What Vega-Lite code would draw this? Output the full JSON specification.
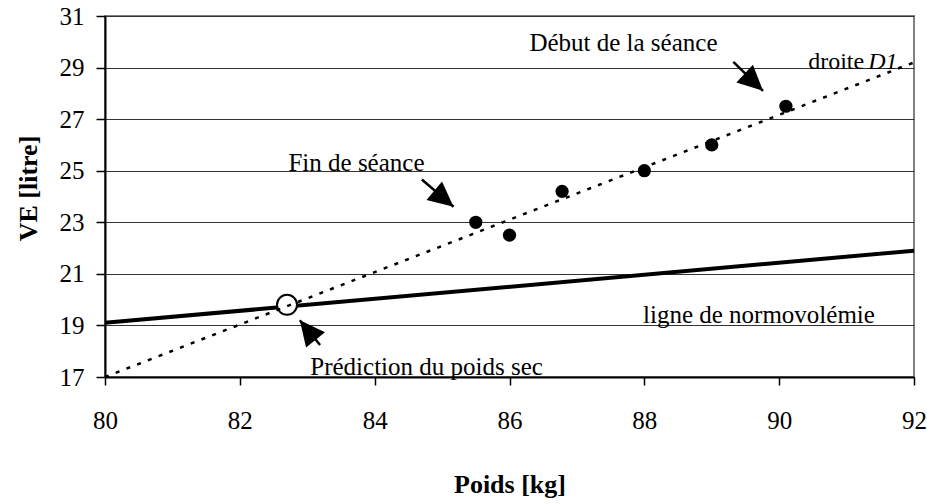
{
  "$schema": "https://vega.github.io/schema/vega-lite/v6.json",
  "width": 809,
  "height": 361,
  "autosize": "none",
  "padding": {"left": 105, "top": 16, "right": 13, "bottom": 127},
  "background": "white",
  "config": {
    "font": "Liberation Serif",
    "view": {"stroke": "#808080", "strokeWidth": 2},
    "axis": {"labelColor": "black", "titleColor": "black", "labelFontSize": 25, "titleFontSize": 26, "titleFontWeight": "bold", "labelFont": "Liberation Serif", "titleFont": "Liberation Serif"}
  },
  "datasets": {
    "points": [
      {"poids": 85.5, "ve": 23.0},
      {"poids": 86.0, "ve": 22.5},
      {"poids": 86.78, "ve": 24.2},
      {"poids": 88.0, "ve": 25.0},
      {"poids": 89.0, "ve": 26.0},
      {"poids": 90.1, "ve": 27.5}
    ],
    "d1": [{"poids": 80, "ve": 17.0}, {"poids": 92, "ve": 29.2}],
    "normo": [{"poids": 80, "ve": 19.1}, {"poids": 92, "ve": 21.9}],
    "pred": [{"poids": 82.7, "ve": 19.8}],
    "stems": [
      {"arrow": "fin", "poids": 84.7, "ve": 24.66, "poids2": 85.17, "ve2": 23.6},
      {"arrow": "debut", "poids": 89.32, "ve": 29.22, "poids2": 89.76, "ve2": 28.1},
      {"arrow": "pred", "poids": 83.19, "ve": 18.24, "poids2": 82.89, "ve2": 19.2}
    ],
    "heads": [
      {"arrow": "fin", "poids": 85.17, "ve": 23.6},
      {"arrow": "debut", "poids": 89.76, "ve": 28.1},
      {"arrow": "pred", "poids": 82.89, "ve": 19.2}
    ],
    "labels": [
      {"label": "Début de la séance", "poids": 87.69, "ve": 29.95},
      {"label": "Fin de séance", "poids": 83.73, "ve": 25.3},
      {"label": "Prédiction du poids sec", "poids": 84.77, "ve": 17.4},
      {"label": "ligne de normovolémie", "poids": 89.7, "ve": 19.41}
    ],
    "droite": [{"label": "droite", "poids": 90.43, "ve": 29.22}],
    "d1label": [{"label": "D1.", "poids": 91.32, "ve": 29.22}]
  },
  "encoding": {
    "x": {
      "field": "poids", "type": "quantitative",
      "scale": {"domain": [80, 92], "nice": false, "zero": false},
      "axis": {"title": "Poids [kg]", "values": [80, 82, 84, 86, 88, 90, 92], "grid": false,
        "domainColor": "black", "domainWidth": 2, "tickColor": "black", "tickWidth": 1.5, "tickSize": 8,
        "labelPadding": 23, "titlePadding": 38, "labelFlush": false}
    },
    "y": {
      "field": "ve", "type": "quantitative",
      "scale": {"domain": [17, 31], "nice": false, "zero": false},
      "axis": {"title": "VE [litre]", "values": [17, 19, 21, 23, 25, 27, 29, 31], "grid": true,
        "gridColor": "#333333", "gridWidth": 1, "domainColor": "black", "domainWidth": 2,
        "tickColor": "black", "tickWidth": 1.5, "tickSize": 9, "labelPadding": 12, "titlePadding": 18, "titleY": 172}
    }
  },
  "layer": [
    {"data": {"name": "normo"}, "mark": {"type": "line", "color": "black", "strokeWidth": 4}},
    {"data": {"name": "pred"}, "mark": {"type": "point", "shape": "circle", "size": 400, "filled": true, "fill": "white", "stroke": "black", "strokeWidth": 2, "opacity": 1}},
    {"data": {"name": "d1"}, "mark": {"type": "line", "color": "black", "strokeWidth": 2.5, "strokeDash": [4, 7.5]}},
    {"data": {"name": "points"}, "mark": {"type": "point", "shape": "circle", "size": 175, "filled": true, "color": "black", "opacity": 1}},
    {"data": {"name": "stems"}, "mark": {"type": "rule", "color": "black", "strokeWidth": 2.5},
      "encoding": {"x2": {"field": "poids2"}, "y2": {"field": "ve2"}}},
    {"data": {"name": "heads"}, "transform": [{"filter": "datum.arrow === 'fin'"}],
      "mark": {"type": "point", "shape": "M0,0L-1.45,3L1.45,3Z", "size": 280, "filled": true, "color": "black", "opacity": 1, "angle": 129.8}},
    {"data": {"name": "heads"}, "transform": [{"filter": "datum.arrow === 'debut'"}],
      "mark": {"type": "point", "shape": "M0,0L-1.45,3L1.45,3Z", "size": 280, "filled": true, "color": "black", "opacity": 1, "angle": 133}},
    {"data": {"name": "heads"}, "transform": [{"filter": "datum.arrow === 'pred'"}],
      "mark": {"type": "point", "shape": "M0,0L-1.45,3L1.45,3Z", "size": 280, "filled": true, "color": "black", "opacity": 1, "angle": 321.3}},
    {"data": {"name": "labels"}, "mark": {"type": "text", "font": "Liberation Serif", "fontSize": 25, "align": "center", "baseline": "middle", "color": "black"},
      "encoding": {"text": {"field": "label"}}},
    {"data": {"name": "droite"}, "mark": {"type": "text", "font": "Liberation Serif", "fontSize": 24, "align": "left", "baseline": "middle", "color": "black"},
      "encoding": {"text": {"field": "label"}}},
    {"data": {"name": "d1label"}, "mark": {"type": "text", "font": "Liberation Serif", "fontSize": 24, "fontStyle": "italic", "align": "left", "baseline": "middle", "color": "black"},
      "encoding": {"text": {"field": "label"}}}
  ]
}
